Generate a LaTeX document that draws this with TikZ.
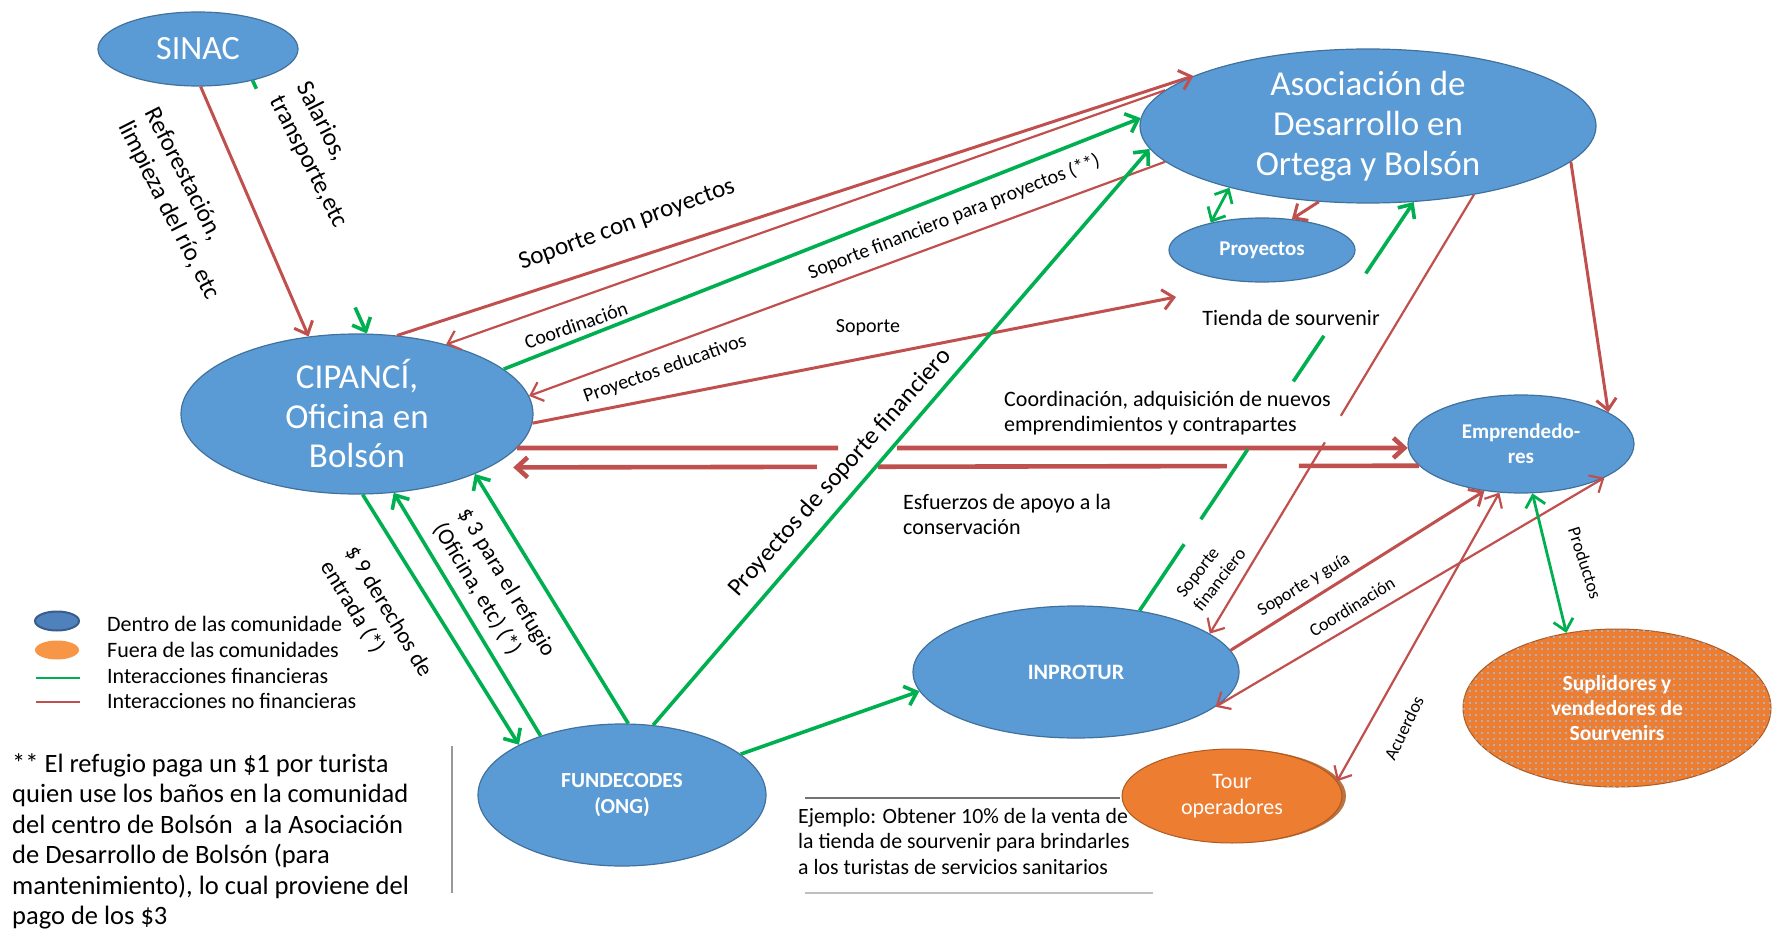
\documentclass[tikz,border=0pt]{standalone}
\usepackage{fontspec}
\setmainfont{Carlito}
\usetikzlibrary{shapes.geometric,arrows.meta,patterns.meta,shadows}
\definecolor{nodeblue}{HTML}{5B9BD5}
\definecolor{nodeborder}{HTML}{41719C}
\definecolor{redc}{HTML}{C0504D}
\definecolor{greenc}{HTML}{00B050}
\definecolor{orangec}{HTML}{ED7D31}
\definecolor{orangeborder}{HTML}{AE5A21}
\definecolor{legblue}{HTML}{4F81BD}
\definecolor{legblueb}{HTML}{385D8A}
\definecolor{legorange}{HTML}{F79646}
\definecolor{dotblue}{HTML}{9DC3E6}
\tikzset{
  ent/.style={ellipse, draw=nodeborder, line width=1.2pt, fill=nodeblue, inner sep=0pt},
  big/.style={text=white, align=center, font=\fontsize{35}{39.5}\selectfont},
  midw/.style={text=white, align=center, font=\fontsize{22}{25.5}\selectfont},
  smallw/.style={text=white, align=center, font=\bfseries\fontsize{21}{25}\selectfont},
  lbl/.style={inner sep=0pt, font=\fontsize{20}{24}\selectfont},
  lblw/.style={inner sep=0pt, font=\fontsize{22}{25}\selectfont},
  lbls/.style={inner sep=0pt, font=\fontsize{18}{22}\selectfont},
  lblL/.style={inner sep=0pt, font=\fontsize{25}{30}\selectfont},
  lblM/.style={inner sep=0pt, font=\fontsize{23}{29}\selectfont},
  rthin/.style={draw=redc, line width=2.2pt},
  rmed/.style={draw=redc, line width=3pt},
  rthick/.style={draw=redc, line width=4.6pt},
  gthick/.style={draw=greenc, line width=3.6pt},
  gmed/.style={draw=greenc, line width=2.8pt},
  >={Straight Barb[length=11pt,width=20pt]},
}
\begin{document}
\begin{tikzpicture}[x=1pt,y=-1pt]
\useasboundingbox (0,0) rectangle (1773,931);

% entities
\node[ent, minimum width=200pt, minimum height=74pt, label={[big,font=\fontsize{34}{38}\selectfont]center:SINAC}] (sinac) at (198,49) {};
\node[ent, minimum width=456pt, minimum height=154pt, label={[big,font=\fontsize{35}{40}\selectfont]center:{Asociación de\\Desarrollo en\\Ortega y Bolsón}}] (asoc) at (1368,126) {};
\node[ent, minimum width=186pt, minimum height=64pt, label={[smallw]center:Proyectos}] (proy) at (1262,250) {};
\node[ent, minimum width=352pt, minimum height=160pt, label={[big]center:{CIPANCÍ,\\Oficina en\\Bolsón}}] (cip) at (357,414) {};
\node[ent, minimum width=226pt, minimum height=98pt, label={[smallw]center:{Emprendedo-\\res}}] (emp) at (1521,444) {};
\node[ent, minimum width=326pt, minimum height=132pt, label={[smallw,font=\bfseries\fontsize{22}{26}\selectfont]center:INPROTUR}] (inp) at (1076,672) {};
\node[ent, minimum width=288pt, minimum height=142pt, label={[smallw,font=\bfseries\fontsize{21.5}{26}\selectfont]center:{FUNDECODES\\(ONG)}}] (fun) at (622,795) {};
\node[ellipse, fill=orangec, draw=orangeborder, line width=1pt, inner sep=0pt, minimum width=220pt, minimum height=94pt,
  drop shadow={shadow xshift=4pt, shadow yshift=0pt, opacity=1, fill=orangeborder!85},
  label={[midw]center:{Tour\\operadores}}] (tour) at (1232,796) {};
\node[ellipse, fill=orangec, draw=orangeborder, line width=1pt, inner sep=0pt, minimum width=308pt, minimum height=158pt,
  postaction={pattern={Dots[radius=1.1pt,distance=6pt]}, pattern color=dotblue},
  label={[smallw,font=\bfseries\fontsize{21.5}{25}\selectfont]center:{Suplidores y\\vendedores de\\Sourvenirs}}] (sup) at (1617,708) {};

\coordinate (tiendatip) at (1176,297);

% connectors
\draw[rmed,->] (sinac.-86) -- (cip.122);
\draw[gthick,->,dash pattern=on 9pt off 240pt on 60pt] (sinac.-30) -- (cip.83.5);
\draw[rmed,->] (cip.63) -- (asoc.164);
\draw[rthin,->] (asoc.170) -- (cip.38);
\draw[gthick,->] (cip.17) -- (asoc.178);
\draw[rthin,->] (asoc.190) -- (cip.6);
\draw[rmed,->] (cip.-3.3) -- (tiendatip);
\draw[rthick,->,dash pattern=on 321pt off 59pt on 700pt] (cip.-12) -- (emp.182);
\draw[rthick,->,dash pattern=on 120pt off 72pt on 349pt off 61pt on 500pt] (emp.192.5) -- ([xshift=24pt]cip.-22);
\draw[rthin,->,dash pattern=on 258pt off 31pt on 400pt] (asoc.-33) -- (inp.16);
\draw[gthick,->,dash pattern=on 80pt off 30pt on 84pt off 82pt on 55pt off 75pt on 150pt] (inp.44) -- (asoc.-59);
\draw[rmed,->] (asoc.-10) -- (emp.20);
\draw[gmed,<->] (asoc.-156) -- (proy.152);
\draw[rmed,->] (asoc.-123) -- (proy.46);
\draw[gthick,->] (fun.19) -- (inp.187.6);
\draw[gthick,->] (fun.66) -- (asoc.186);
\draw[gthick,->] (fun.85) -- (cip.-27.5);
\draw[gthick,->] (cip.-86.4) -- (fun.154);
\draw[gthick,->] (fun.144) -- (cip.-65);
\draw[rmed,->] (inp.8) -- (emp.-128);
\draw[rthin,<->] (emp.-22) -- (inp.-14);
\draw[rthin,<->] (emp.-114) -- (tour.8.6);
\draw[gmed,<->] (emp.-77.6) -- (sup.124.4);

% labels
\node[lblL, rotate=-63, align=left] (lRef) at (182,204) {Reforestación,\\limpieza del río, etc};
\node[lblL, rotate=-63, align=left] (lSal) at (322,155) {Salarios,\\transporte,etc};
\node[lblL, rotate=20] (lSCP) at (627,225) {Soporte con proyectos};
\node[lbl, rotate=19] (lCoo) at (576,325) {Coordinación};
\node[lbl, rotate=21.4] (lSFP) at (954,217) {Soporte financiero para proyectos (**)};
\node[lbl, rotate=19.4] (lPE) at (665,369) {Proyectos educativos};
\node[lbl] (lSop) at (868,328) {Soporte};
\node[lblw] (lTie) at (1291,318) {Tienda de sourvenir};
\node[lblw, anchor=west, align=left] (lCAN) at (1004,413) {Coordinación, adquisición de nuevos\\emprendimientos y contrapartes};
\node[lblw, anchor=west, align=left] (lEsf) at (903,514) {Esfuerzos de apoyo a la\\conservación};
\node[lblL, rotate=48.4] (lPSF) at (840,473) {Proyectos de soporte financiero};
\node[lblM, rotate=-59, align=left] (l9) at (376,619) {\$ 9 derechos de\\entrada (*)};
\node[lblM, rotate=-59, align=left] (l3) at (494,590) {\$ 3 para el refugio\\(Oficina, etc) (*)};
\node[lbls, rotate=52, align=left] (lSF) at (1211,573) {Soporte\\financiero};
\node[lbls, rotate=31.5] (lSG) at (1304,585) {Soporte y guía};
\node[lbls, rotate=31.7] (lCo2) at (1352,607) {Coordinación};
\node[lbls, rotate=64] (lAc) at (1404,728) {Acuerdos};
\node[lbls, rotate=-72] (lPr) at (1585,563) {Productos};

% legend
\node[ellipse, fill=legblue, draw=legblueb, line width=2pt, inner sep=0pt, minimum width=44pt, minimum height=19pt] (legA) at (57,621) {};
\node[ellipse, fill=legorange, inner sep=0pt, minimum width=44pt, minimum height=19pt] (legB) at (57,650) {};
\draw[greenc, line width=2.5pt] (36,678) -- (80,678);
\draw[redc, line width=1.8pt] (36,702) -- (80,702);
\node[lbl, font=\fontsize{22}{25}\selectfont, anchor=west] (t1) at (107,624) {Dentro de las comunidade};
\node[lbl, font=\fontsize{22}{25}\selectfont, anchor=west] (t2) at (107,650) {Fuera de las comunidades};
\node[lbl, font=\fontsize{22}{25}\selectfont, anchor=west] (t3) at (107,676) {Interacciones financieras};
\node[lbl, font=\fontsize{22}{25}\selectfont, anchor=west] (t4) at (107,701) {Interacciones no financieras};

% footnote
\node[inner sep=0pt, anchor=north west, align=left, font=\fontsize{26.5}{30.5}\selectfont] (foot) at (12,753)
 {** El refugio paga un \$1 por turista\\quien use los baños en la comunidad\\del centro de Bolsón\ \ a la Asociación\\de Desarrollo de Bolsón (para\\mantenimiento), lo cual proviene del\\pago de los \$3};
\draw[black!40, line width=1.5pt] (452,746) -- (452,893);

% example
\draw[black!55, line width=1.5pt] (805,798) -- (1120,798);
\node[inner sep=0pt, anchor=north west, align=left, font=\fontsize{21.8}{25.5}\selectfont] (ej) at (798,808)
 {Ejemplo: Obtener 10\% de la venta de\\la tienda de sourvenir para brindarles\\a los turistas de servicios sanitarios};
\draw[black!25, line width=1.5pt] (805,893) -- (1153,893);
\end{tikzpicture}
\end{document}
